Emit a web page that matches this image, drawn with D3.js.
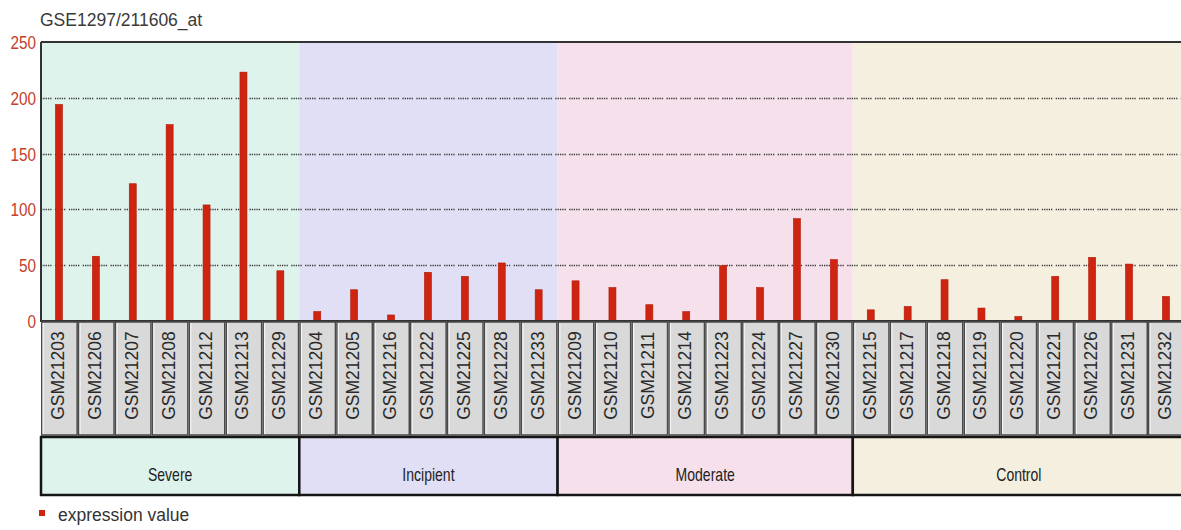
<!DOCTYPE html>
<html>
<head>
<meta charset="utf-8">
<script src="https://cdn.jsdelivr.net/npm/d3@7"></script>
<style>
  html, body { margin: 0; padding: 0; background: #ffffff; overflow: hidden; }
  svg { display: block; }
</style>
</head>
<body>
<div id="chart"></div>
<script>
// Expression profile of probe 211606_at across GSE1297 samples
const title = "GSE1297/211606_at";
const samples = [
  "GSM21203","GSM21206","GSM21207","GSM21208","GSM21212","GSM21213","GSM21229",
  "GSM21204","GSM21205","GSM21216","GSM21222","GSM21225","GSM21228","GSM21233",
  "GSM21209","GSM21210","GSM21211","GSM21214","GSM21223","GSM21224","GSM21227","GSM21230",
  "GSM21215","GSM21217","GSM21218","GSM21219","GSM21220","GSM21221","GSM21226","GSM21231","GSM21232"
];
const expressionValues = [
  194, 58, 123, 176, 104, 223, 45,
  8.5, 28, 5.4, 43.6, 40, 52, 28,
  36, 30, 14.6, 8.4, 49.6, 30, 91.7, 55,
  10, 13, 37, 11.6, 4, 40, 57, 51, 22
];
const groupNames = ["Severe", "Incipient", "Moderate", "Control"];
const groupSizes = [7, 7, 8, 9];
const groupColors = ["#def3ec", "#e0dff5", "#f5e0eb", "#f5efdf"];
const yTicks = [0, 50, 100, 150, 200, 250];
const legendLabel = "expression value";

const W = 1181, H = 530;
const plotLeft = 41, plotTop = 42, plotBottom = 321;
const step = 36.9;
const barColor = "#cf2410";
const sans = "'Liberation Sans', Arial, sans-serif";

const svg = d3.select("#chart").append("svg")
  .attr("width", W).attr("height", H);

const x = d3.scaleBand()
  .domain(samples)
  .range([plotLeft, plotLeft + step * samples.length])
  .padding(0);

const y = d3.scaleLinear().domain([0, 250]).range([plotBottom, plotTop]);

// group spans built from group sizes
let start = 0;
const groups = groupNames.map((name, i) => {
  const members = samples.slice(start, start + groupSizes[i]);
  start += groupSizes[i];
  const x0 = x(members[0]);
  const x1 = x(members[members.length - 1]) + x.bandwidth();
  return { name, color: groupColors[i], x0, x1 };
});

// shaded group backgrounds in the plot area
svg.append("g").selectAll("rect").data(groups).join("rect")
  .attr("x", d => d.x0).attr("y", plotTop)
  .attr("width", d => d.x1 - d.x0).attr("height", plotBottom - plotTop)
  .attr("fill", d => d.color);

// dotted horizontal gridlines
svg.append("g").selectAll("line").data(yTicks.filter(t => t > 0 && t < 250)).join("line")
  .attr("x1", plotLeft).attr("x2", W)
  .attr("y1", d => Math.round(y(d)) + 0.5).attr("y2", d => Math.round(y(d)) + 0.5)
  .attr("stroke", "#3a3a3a").attr("stroke-width", 1.5)
  .attr("stroke-dasharray", "1.3,1,1.3,1,1.3,1,1.3,1,1.3,3.4");

// bars
const barW = 7;
svg.append("g").selectAll("rect").data(samples).join("rect")
  .attr("x", d => x(d) + x.bandwidth() / 2 - barW / 2 - 0.5)
  .attr("y", (d, i) => y(expressionValues[i]))
  .attr("width", barW)
  .attr("height", (d, i) => y(0) - y(expressionValues[i]))
  .attr("fill", barColor)
  .attr("stroke", "#b01a08").attr("stroke-width", 0.6);

// plot frame: top and left edges, baseline
svg.append("line").attr("x1", plotLeft).attr("x2", W).attr("y1", plotTop).attr("y2", plotTop)
  .attr("stroke", "#333").attr("stroke-width", 2);
svg.append("line").attr("x1", plotLeft).attr("x2", plotLeft).attr("y1", plotTop).attr("y2", plotBottom + 1)
  .attr("stroke", "#333").attr("stroke-width", 2);
svg.append("line").attr("x1", plotLeft).attr("x2", W).attr("y1", plotBottom).attr("y2", plotBottom)
  .attr("stroke", "#333").attr("stroke-width", 2);

// y axis labels (narrowed horizontally)
const yAxis = d3.axisLeft(y).tickValues(yTicks).tickSize(0).tickPadding(0);
const yg = svg.append("g").attr("transform", `translate(${plotLeft - 5},0)`).call(yAxis);
yg.select(".domain").remove();
yg.selectAll(".tick text")
  .attr("x", 0)
  .attr("transform", "scale(0.85,1)")
  .attr("fill", "#c4402a")
  .attr("font-family", sans)
  .attr("font-size", 18)
  .attr("dy", "0.36em");

// sample name boxes under the plot
const boxTop = 322, boxBottom = 435;
const sampleBoxes = svg.append("g").selectAll("g").data(samples).join("g");
sampleBoxes.append("rect")
  .attr("x", d => x(d) + 0.75).attr("y", boxTop)
  .attr("width", x.bandwidth() - 1.5).attr("height", boxBottom - boxTop)
  .attr("fill", "#d9d9d9").attr("stroke", "#4a4a4a").attr("stroke-width", 1.5);
sampleBoxes.append("line")
  .attr("x1", d => x(d) + 2.2).attr("x2", d => x(d) + 2.2)
  .attr("y1", boxTop + 1).attr("y2", boxBottom - 1)
  .attr("stroke", "#f4f4f4").attr("stroke-width", 1.2);
sampleBoxes.append("text")
  .attr("transform", d => `translate(${x(d) + x.bandwidth() / 2 + 4.5},${(boxTop + boxBottom) / 2 - 3}) rotate(-90)`)
  .attr("text-anchor", "middle")
  .attr("font-family", sans)
  .attr("font-size", 17.5)
  .attr("fill", "#2a2a2a")
  .text(d => d);

// group boxes
const gTop = 437, gBottom = 495;
svg.append("g").selectAll("rect").data(groups).join("rect")
  .attr("x", d => d.x0).attr("y", gTop)
  .attr("width", d => d.x1 - d.x0).attr("height", gBottom - gTop)
  .attr("fill", d => d.color).attr("stroke", "#151515").attr("stroke-width", 2.5);
svg.append("g").selectAll("text").data(groups).join("text")
  .attr("transform", d => `translate(${(d.x0 + d.x1) / 2},481) scale(0.78,1)`)
  .attr("text-anchor", "middle")
  .attr("font-family", sans)
  .attr("font-size", 18)
  .attr("fill", "#222")
  .text(d => d.name);

// title
svg.append("text")
  .attr("x", 40).attr("y", 26)
  .attr("font-family", sans)
  .attr("font-size", 17.5).attr("fill", "#3a3a3a")
  .text(title);

// legend
svg.append("rect").attr("x", 39).attr("y", 510).attr("width", 6).attr("height", 6).attr("fill", barColor);
svg.append("text")
  .attr("x", 58).attr("y", 521)
  .attr("font-family", sans)
  .attr("font-size", 17.5).attr("fill", "#333")
  .text(legendLabel);
</script>
</body>
</html>
